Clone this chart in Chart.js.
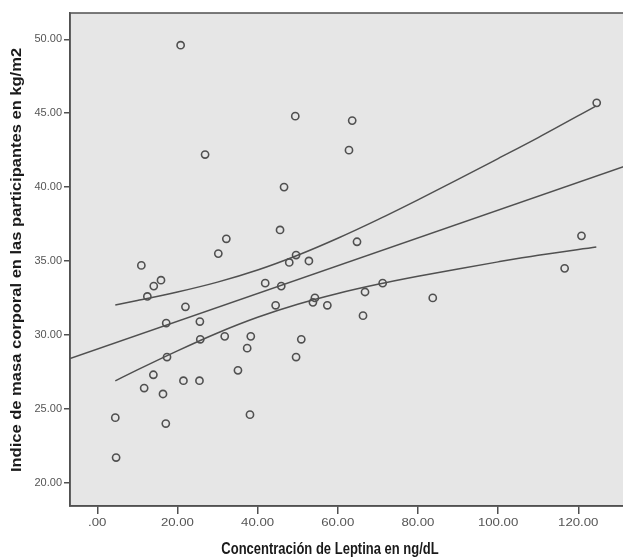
<!DOCTYPE html>
<html><head><meta charset="utf-8">
<script src="https://cdn.jsdelivr.net/npm/chart.js@4/dist/chart.umd.min.js"></script>
<style>
html,body{margin:0;padding:0;overflow:hidden;background:#fff;width:623px;height:557px}
#wrap{position:relative;width:650px;height:557px}
</style></head>
<body><div id="wrap"><canvas id="c" width="650" height="557"></canvas></div>
<script>
// Leptina (ng/dL) and IMC (kg/m2) per participant
const leptina = [20.8,26.9,49.4,63.6,62.8,124.6,46.6,45.6,32.2,30.2,64.8,120.8,116.6,11.0,15.9,14.1,12.5,49.6,47.9,52.8,41.9,45.9,71.2,66.8,54.3,53.8,57.4,44.5,83.7,66.3,22.0,17.2,25.6,25.7,31.8,38.3,50.9,37.4,49.6,17.4,35.1,14.0,11.7,21.5,25.5,16.4,38.1,4.5,17.1,4.7];
const imc = [49.6,42.2,44.8,44.5,42.5,45.7,40.0,37.1,36.5,35.5,36.3,36.7,34.5,34.7,33.7,33.3,32.6,35.4,34.9,35.0,33.5,33.3,33.5,32.9,32.5,32.2,32.0,32.0,32.5,31.3,31.9,30.8,30.9,29.7,29.9,29.9,29.7,29.1,28.5,28.5,27.6,27.3,26.4,26.9,26.9,26.0,24.6,24.4,24.0,21.7];
// Linear fit line (read at plot edges)
const fitX = [-6.8, 135.4];
const fitY = [28.39, 41.76];
// 95% mean confidence band
const ciX =     [4.5,   10,    20,    30,    40,    50,    60,    70,    80,    90,    100,   110,   124.5];
const ciUpper = [32.02, 32.32, 32.90, 33.57, 34.39, 35.39, 36.54, 37.80, 39.14, 40.52, 41.93, 43.35, 45.50];
const ciLower = [26.89, 27.63, 28.92, 30.13, 31.19, 32.07, 32.80, 33.42, 33.96, 34.46, 34.94, 35.39, 35.95];
// Ticks
const xTicks = [0,20,40,60,80,100,120];
const xTickLabels = ['.00','20.00','40.00','60.00','80.00','100.00','120.00'];
const yTicks = [20,25,30,35,40,45,50];
const yTickLabels = ['20.00','25.00','30.00','35.00','40.00','45.00','50.00'];
const xTitle = 'Concentración de Leptina en ng/dL';
const yTitle = 'Indice de masa corporal en las participantes en kg/m2';

const INK = '#505050';
const FONT = '"Liberation Sans", Arial, Helvetica, sans-serif';

function drawText(ctx, text, x, y, font, sx, sy, align, baseline, rot, color) {
  ctx.save();
  ctx.translate(x, y);
  if (rot) ctx.rotate(rot);
  ctx.scale(sx, sy);
  ctx.font = font;
  ctx.fillStyle = color;
  ctx.textAlign = align;
  ctx.textBaseline = baseline;
  ctx.fillText(text, 0, 0);
  ctx.restore();
}

const decor = {
  id: 'decor',
  beforeDraw(chart) {
    const {ctx, chartArea: a} = chart;
    ctx.save();
    ctx.fillStyle = '#ffffff';
    ctx.fillRect(0, 0, chart.width, chart.height);
    ctx.fillStyle = '#e6e6e6';
    ctx.fillRect(a.left, a.top, a.right - a.left, a.bottom - a.top);
    ctx.restore();
  },
  afterDraw(chart) {
    const {ctx, chartArea: a, scales} = chart;
    ctx.save();
    ctx.strokeStyle = INK;
    ctx.lineWidth = 1.5;
    ctx.strokeRect(a.left, a.top, a.right - a.left, a.bottom - a.top);
    ctx.restore();
    yTicks.forEach((v, i) => {
      const py = scales.y.getPixelForValue(v);
      drawText(ctx, yTickLabels[i], a.left - 8, py, '11px ' + FONT, 1, 1.05, 'right', 'middle', 0, '#555555');
    });
    xTicks.forEach((v, i) => {
      const px = scales.x.getPixelForValue(v);
      drawText(ctx, xTickLabels[i], px, 523, '11px ' + FONT, 1.2, 1.05, 'center', 'middle', 0, '#555555');
    });
    drawText(ctx, xTitle, 330, 554, 'bold 13px ' + FONT, 1, 1.2, 'center', 'alphabetic', 0, '#1a1a1a');
    drawText(ctx, yTitle, 21, 260, 'bold 14px ' + FONT, 1.18, 1, 'center', 'alphabetic', -Math.PI / 2, '#1a1a1a');
  }
};

const lineStyle = {showLine: true, pointRadius: 0, borderColor: INK, borderWidth: 1.5, fill: false};

new Chart(document.getElementById('c'), {
  type: 'scatter',
  data: {
    datasets: [
      Object.assign({label: 'fit', data: fitX.map((x, i) => ({x, y: fitY[i]})), tension: 0}, lineStyle),
      Object.assign({label: 'upper', data: ciX.map((x, i) => ({x, y: ciUpper[i]})), cubicInterpolationMode: 'monotone'}, lineStyle),
      Object.assign({label: 'lower', data: ciX.map((x, i) => ({x, y: ciLower[i]})), cubicInterpolationMode: 'monotone'}, lineStyle),
      {label: 'IMC', data: leptina.map((x, i) => ({x, y: imc[i]})), pointRadius: 3.6, pointBorderWidth: 1.6,
       pointBorderColor: INK, pointBackgroundColor: 'rgba(0,0,0,0)', showLine: false}
    ]
  },
  options: {
    responsive: false,
    animation: false,
    devicePixelRatio: 1,
    layout: {padding: {top: 13, right: 10, left: 0, bottom: 0}},
    plugins: {legend: {display: false}, tooltip: {enabled: false}},
    scales: {
      x: {
        type: 'linear', min: -6.8, max: 135.4,
        afterBuildTicks: s => { s.ticks = xTicks.map(v => ({value: v})); },
        afterFit: s => { s.height = 51; },
        ticks: {display: false},
        grid: {drawOnChartArea: false, drawTicks: true, tickLength: 8, color: INK, lineWidth: 1.5},
        border: {display: true, color: INK, width: 1.5}
      },
      y: {
        type: 'linear', min: 18.42, max: 51.78,
        afterBuildTicks: s => { s.ticks = yTicks.map(v => ({value: v})); },
        afterFit: s => { s.width = 70; },
        ticks: {display: false},
        grid: {drawOnChartArea: false, drawTicks: true, tickLength: 6, color: INK, lineWidth: 1.5},
        border: {display: true, color: INK, width: 1.5}
      }
    }
  },
  plugins: [decor]
});
</script>
</body></html>
